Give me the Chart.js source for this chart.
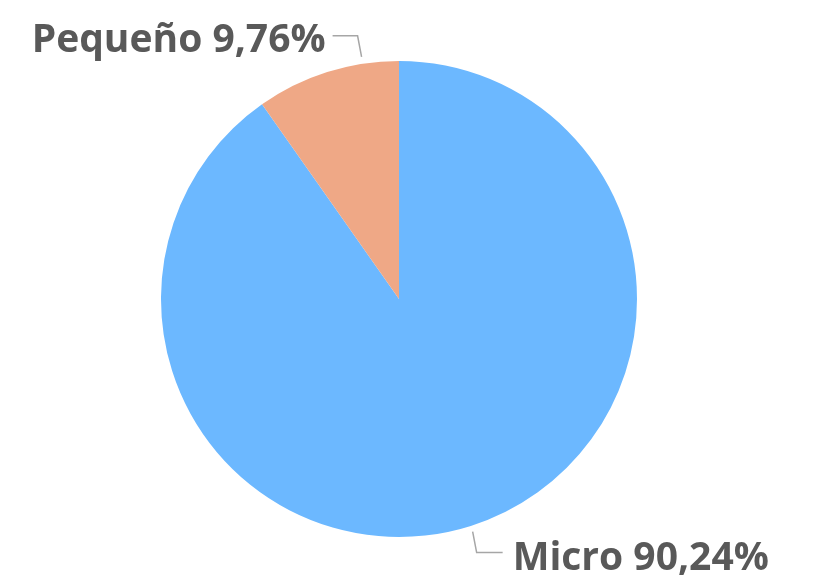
<!DOCTYPE html>
<html>
<head>
<meta charset="utf-8">
<script src="https://cdn.jsdelivr.net/npm/chart.js@4.4.1/dist/chart.umd.min.js"></script>
<style>
html,body{margin:0;padding:0;background:#fff;}
#wrap{width:814px;height:580px;position:relative;}
</style>
</head>
<body>
<div id="wrap"><canvas id="c" width="814" height="580"></canvas></div>
<script>
const categories = ["Micro", "Pequeño"];
const shares = [90.24, 9.76];
const sliceColors = ["#6CB8FF", "#EFA886"];

const fmt = v => v.toFixed(2).replace('.', ',') + '%';

const labelPlugin = {
  id: 'leaderLabels',
  afterDraw(chart) {
    const ctx = chart.ctx;
    const meta = chart.getDatasetMeta(0);
    ctx.save();
    ctx.font = 'bold 39px "Open Sans"';
    ctx.fillStyle = '#595959';
    ctx.strokeStyle = '#A6A6A6';
    ctx.lineWidth = 1.5;
    meta.data.forEach((arc, i) => {
      const p = arc.getProps(['x','y','startAngle','endAngle','outerRadius'], true);
      const span = p.endAngle - p.startAngle;
      const text = categories[i] + ' ' + fmt(shares[i]);
      let a, ax, ay;
      if (i === 0) {
        a = p.startAngle + span / 2;
        ax = p.x + (p.outerRadius + 6) * Math.cos(a);
        ay = p.y + (p.outerRadius + 6) * Math.sin(a);
        ctx.beginPath();
        ctx.moveTo(ax, ay);
        ctx.lineTo(ax + 4, ay + 21);
        ctx.lineTo(ax + 30, ay + 21);
        ctx.stroke();
        ctx.textAlign = 'left';
        ctx.textBaseline = 'alphabetic';
        ctx.fillText(text, ax + 40, ay + 38);
      } else {
        a = p.endAngle - 0.25 * span;
        ax = p.x + (p.outerRadius + 7) * Math.cos(a);
        ay = p.y + (p.outerRadius + 7) * Math.sin(a);
        ctx.beginPath();
        ctx.moveTo(ax, ay);
        ctx.lineTo(ax - 4, ay - 21);
        ctx.lineTo(ax - 29, ay - 21);
        ctx.stroke();
        ctx.textAlign = 'right';
        ctx.textBaseline = 'alphabetic';
        ctx.fillText(text, ax - 36, ay - 5);
      }
    });
    ctx.restore();
  }
};

new Chart(document.getElementById('c'), {
  type: 'pie',
  data: {
    labels: categories,
    datasets: [{
      data: shares,
      backgroundColor: sliceColors,
      borderWidth: 0
    }]
  },
  options: {
    responsive: false,
    animation: false,
    layout: { padding: { top: 61, bottom: 43, left: 161, right: 177 } },
    plugins: { legend: { display: false }, tooltip: { enabled: false } }
  },
  plugins: [labelPlugin]
});
</script>
</body>
</html>
